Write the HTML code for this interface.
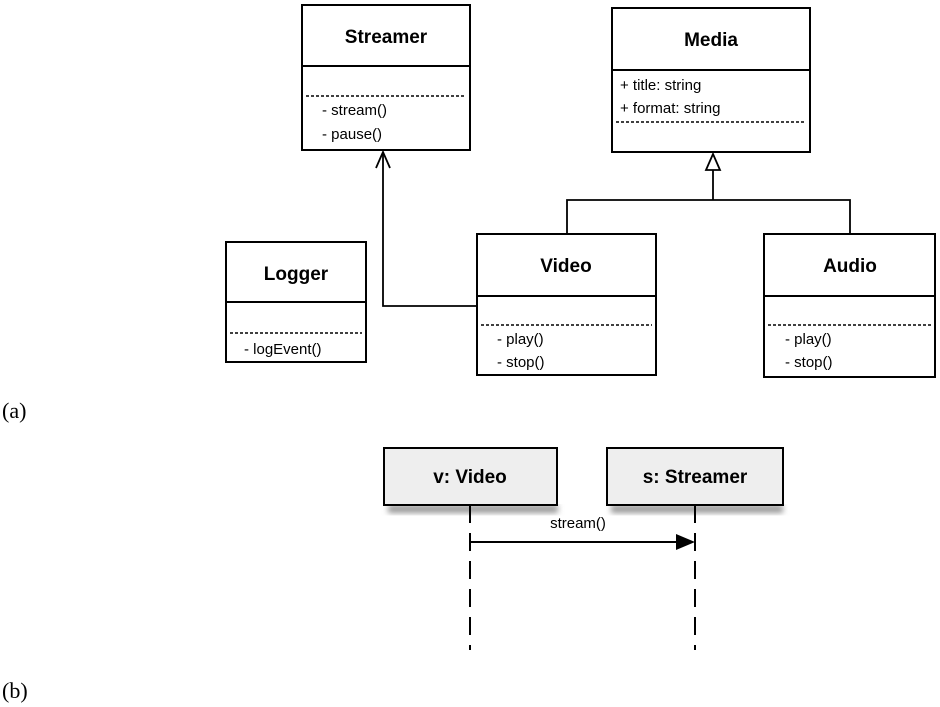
<!DOCTYPE html>
<html><head><meta charset="utf-8"><style>
body{margin:0;background:#fff;}
svg{display:block}
text{font-family:"Liberation Sans",sans-serif;fill:#000}
.t{font-weight:bold;font-size:19px}
.m{font-size:15px}
.l{font-family:"Liberation Serif",serif;font-size:22px}
</style></head><body>
<svg width="940" height="707" viewBox="0 0 940 707" xmlns="http://www.w3.org/2000/svg">
<defs><filter id="sh" x="-10%" y="-10%" width="120%" height="140%"><feGaussianBlur stdDeviation="3"/></filter></defs>
<g fill="#fff" stroke="#000" stroke-width="2">
<rect x="302" y="5" width="168" height="145"/><line x1="302" y1="66" x2="470" y2="66"/>
<rect x="612" y="8" width="198" height="144"/><line x1="612" y1="70" x2="810" y2="70"/>
<rect x="477" y="234" width="179" height="141"/><line x1="477" y1="296" x2="656" y2="296"/>
<rect x="764" y="234" width="171" height="143"/><line x1="764" y1="296" x2="935" y2="296"/>
<rect x="226" y="242" width="140" height="120"/><line x1="226" y1="302" x2="366" y2="302"/>
</g>
<g stroke="#000" stroke-width="1.5" stroke-dasharray="3,2">
<line x1="306" y1="96" x2="466" y2="96"/>
<line x1="616" y1="122" x2="806" y2="122"/>
<line x1="481" y1="325" x2="652" y2="325"/>
<line x1="768" y1="325" x2="931" y2="325"/>
<line x1="230" y1="333" x2="362" y2="333"/>
</g>
<g fill="none" stroke="#000" stroke-width="1.8">
<polyline points="477,306 383,306 383,152"/>
<polyline points="376,168 383,152 390,168"/>
<polyline points="567,234 567,200 850,200 850,234"/>
<line x1="713" y1="200" x2="713" y2="170"/>
<polygon points="706,170 720,170 713,154" fill="#fff"/>
</g>
<text class="t" x="386" y="43" text-anchor="middle">Streamer</text>
<text class="t" x="711" y="46" text-anchor="middle">Media</text>
<text class="t" x="566" y="272" text-anchor="middle">Video</text>
<text class="t" x="850" y="272" text-anchor="middle">Audio</text>
<text class="t" x="296" y="280" text-anchor="middle">Logger</text>
<text class="m" x="322" y="115">- stream()</text>
<text class="m" x="322" y="139">- pause()</text>
<text class="m" x="620" y="90">+ title: string</text>
<text class="m" x="620" y="113">+ format: string</text>
<text class="m" x="497" y="344">- play()</text>
<text class="m" x="497" y="367">- stop()</text>
<text class="m" x="785" y="344">- play()</text>
<text class="m" x="785" y="367">- stop()</text>
<text class="m" x="244" y="354">- logEvent()</text>
<text class="l" x="2" y="418">(a)</text>
<text class="l" x="2" y="698">(b)</text>
<rect x="388" y="505" width="170" height="8" fill="#999" filter="url(#sh)"/>
<rect x="611" y="505" width="172" height="8" fill="#999" filter="url(#sh)"/>
<rect x="384" y="448" width="173" height="57" fill="#eeeeee" stroke="#000" stroke-width="2"/>
<rect x="607" y="448" width="176" height="57" fill="#eeeeee" stroke="#000" stroke-width="2"/>
<text class="t" x="470" y="483" text-anchor="middle">v: Video</text>
<text class="t" x="695" y="483" text-anchor="middle">s: Streamer</text>
<g stroke="#000" stroke-width="2" stroke-dasharray="18,10">
<line x1="470" y1="505" x2="470" y2="650"/>
<line x1="695" y1="505" x2="695" y2="650"/>
</g>
<line x1="470" y1="542" x2="678" y2="542" stroke="#000" stroke-width="2"/>
<polygon points="676,534 695,542 676,550" fill="#000"/>
<text class="m" x="578" y="528" text-anchor="middle">stream()</text>
</svg>
</body></html>
